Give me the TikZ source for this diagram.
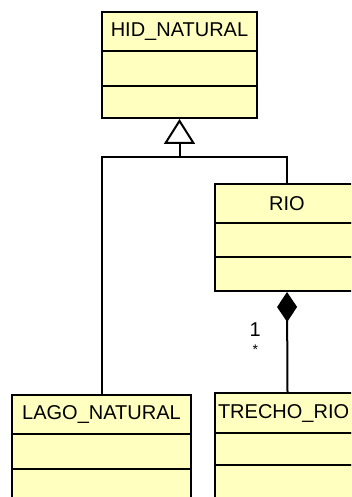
\documentclass[tikz,border=0pt]{standalone}
\usepackage{fontspec}
\setmainfont{Liberation Sans}
\usetikzlibrary{arrows.meta}
\definecolor{clsY}{RGB}{255,255,192}

\tikzstyle{cN}=[rectangle,draw,fill=clsY,line width=2pt,inner sep=0pt,font=\fontsize{20}{22}\selectfont]
\tikzstyle{cC}=[rectangle,draw,fill=clsY,line width=2pt,inner sep=0pt]
\tikzstyle{eG}=[line width=2pt]
\tikzstyle{eGH}=[line width=2pt,-{Triangle[open,length=25pt,width=31pt]}]
\tikzstyle{eCo}=[line width=2pt,-{Diamond[length=30pt,width=20pt]}]
\tikzstyle{mL}=[inner sep=0pt,font=\fontsize{20}{22}\selectfont]
\tikzstyle{mS}=[inner sep=0pt,font=\fontsize{14}{16}\selectfont]

\begin{document}
\begin{tikzpicture}[x=1pt,y=-1pt]
        \useasboundingbox (0,0) rectangle (351,497);
        \clip (0,0) rectangle (351,497);
                % HID_NATURAL
                \draw (179.5,31.5) node[cN,minimum width=155pt,minimum height=39pt] (hidN) {HID\_NATURAL};
                \draw (179.5,68.5) node[cC,minimum width=155pt,minimum height=35pt] (hidA) {};
                \draw (179.5,102) node[cC,minimum width=155pt,minimum height=32pt] (hidO) {};
                % RIO
                \draw (287,203.5) node[cN,minimum width=144pt,minimum height=39pt] (rioN) {RIO};
                \draw (287,240) node[cC,minimum width=144pt,minimum height=34pt] (rioA) {};
                \draw (287,274) node[cC,minimum width=144pt,minimum height=34pt] (rioO) {};
                % LAGO_NATURAL
                \draw (101.5,414.5) node[cN,minimum width=179pt,minimum height=39pt] (lagoN) {LAGO\_NATURAL};
                \draw (101.5,451.5) node[cC,minimum width=179pt,minimum height=35pt] (lagoA) {};
                \draw (101.5,494.5) node[cC,minimum width=179pt,minimum height=51pt] (lagoO) {};
                % TRECHO_RIO (cortado na margem)
                \draw (287.5,413) node[cN,minimum width=145pt,minimum height=40pt,text width=139pt,align=left] (trN) {TRECHO\_RIO};
                \draw (287.5,449) node[cC,minimum width=145pt,minimum height=32pt] (trA) {};
                \draw (287.5,492.5) node[cC,minimum width=145pt,minimum height=55pt] (trO) {};
                % generalizacao
                \coordinate (jn) at (179.5,157);
                \draw[eG] (lagoN.north) |- (jn) -| (rioN.north);
                \path
                    (jn) edge[eGH] (hidO.south)
                    (trN.north) edge[eCo] node[mL,pos=0.62,xshift=-32pt]{1} node[mS,pos=0.42,xshift=-32pt]{*} (rioO.south)
                ;
        \end{tikzpicture}
\end{document}
